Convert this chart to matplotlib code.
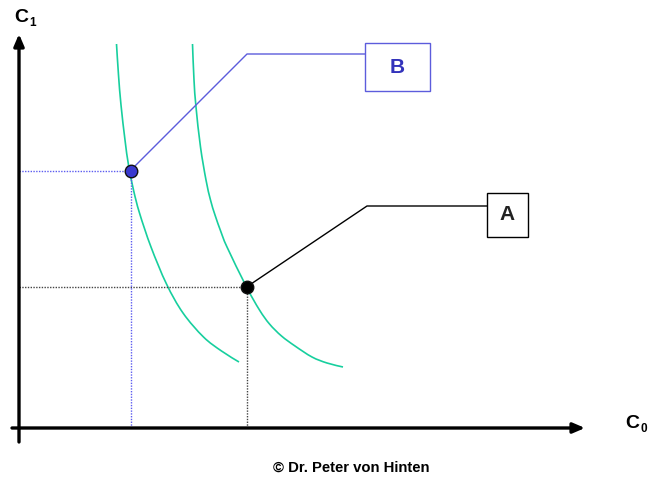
import matplotlib
matplotlib.use("Agg")
import matplotlib.pyplot as plt
from matplotlib.patches import Rectangle, PathPatch
from matplotlib.path import Path

plt.rcParams['font.family'] = ['Liberation Sans', 'DejaVu Sans']

# indifference curves (C0, C1)
curve1_c0 = [97.5, 99.5, 102, 106, 109.5, 114.5, 120.5, 132, 147.5, 164, 184.5, 202.5, 220]
curve1_c1 = [384, 353, 323, 288, 263, 238, 215, 181, 144, 115, 91, 77, 66]
curve2_c0 = [173.5, 175, 177, 181.5, 187, 191.5, 196, 202, 208, 227.5, 240.5, 250.5,
             262.5, 276, 293, 308, 324]
curve2_c1 = [384, 348, 321, 281, 248, 228, 213, 196, 181, 141, 118, 104, 92, 82, 71, 65, 61]

# the two consumption points
point_names = ["A", "B"]
point_c0 = [227.5, 111.5]
point_c1 = [141, 257.5]

# callouts: elbow of the leader line, box (left, bottom, width, height)
elbow = {"A": (348, 222), "B": (228, 374)}
boxes = {"A": (468, 191, 41, 44), "B": (346, 337, 65, 48)}

green = '#17cf9e'
blue_line = '#5c5cdc'
# face, dotted guides, leader line, letter
colors = {"A": ('black', '#444444', 'black', '#222222'),
          "B": ('#3a3acf', '#5c5cf0', blue_line, '#3333bb')}


def smooth_path(xs, ys):
    # draw a smooth line through the read points (Catmull-Rom as Bezier)
    pts = list(zip(xs, ys))
    verts = [pts[0]]
    codes = [Path.MOVETO]
    for i in range(len(pts) - 1):
        p0 = pts[i - 1] if i > 0 else pts[i]
        p1, p2 = pts[i], pts[i + 1]
        p3 = pts[i + 2] if i + 2 < len(pts) else pts[i + 1]
        c1 = (p1[0] + (p2[0] - p0[0]) / 6, p1[1] + (p2[1] - p0[1]) / 6)
        c2 = (p2[0] - (p3[0] - p1[0]) / 6, p2[1] - (p3[1] - p1[1]) / 6)
        verts += [c1, c2, p2]
        codes += [Path.CURVE4] * 3
    return Path(verts, codes)


fig = plt.figure(figsize=(6.48, 4.78), dpi=100)
ax = fig.add_axes([0, 0, 1, 1])
ax.set_xlim(-19, 629)
ax.set_ylim(-50, 428)
ax.axis('off')

for xs, ys in [(curve1_c0, curve1_c1), (curve2_c0, curve2_c1)]:
    ax.add_patch(PathPatch(smooth_path(xs, ys), fill=False, edgecolor=green, lw=1.2))

for name, x, y in zip(point_names, point_c0, point_c1):
    face, dots, line, text_col = colors[name]
    # dotted guides to the axes
    ax.plot([0, x], [y, y], color=dots, lw=1, ls=(0, (1, 1)), zorder=1)
    ax.plot([x, x], [0, y], color=dots, lw=1, ls=(0, (1, 1)), zorder=1)
    # leader line and box
    ex, ey = elbow[name]
    bx, by, bw, bh = boxes[name]
    ax.plot([x, ex, bx], [y, ey, ey], color=line, lw=1, zorder=2)
    ax.add_patch(Rectangle((bx, by), bw, bh, fill=False, edgecolor=line, lw=1))
    ax.text(bx + bw / 2, by + bh / 2, name, ha='center', va='center',
            fontsize=15, fontweight='bold', color=text_col)
    ax.plot(x, y, 'o', ms=9, mfc=face, mec='#111111', mew=1, zorder=5)

# axes with arrows
arrow = dict(arrowstyle='-|>,head_length=0.7,head_width=0.3', lw=2.4,
             color='black', shrinkA=0, shrinkB=0)
ax.annotate('', xy=(0, 394), xytext=(0, -14), arrowprops=arrow)
ax.annotate('', xy=(566, 0), xytext=(-7, 0), arrowprops=arrow)

ax.text(-5, 411, "C", fontsize=14, fontweight='bold', ha='left', va='center')
ax.text(10.5, 405, "1", fontsize=8.5, fontweight='bold', ha='left', va='center')
ax.text(606, 5, "C", fontsize=14, fontweight='bold', ha='left', va='center')
ax.text(621.5, -1, "0", fontsize=8.5, fontweight='bold', ha='left', va='center')

ax.text(332, -40, "© Dr. Peter von Hinten", fontsize=10.7, fontweight='bold',
        ha='center', va='center')

fig.savefig("out.png", dpi=100)
